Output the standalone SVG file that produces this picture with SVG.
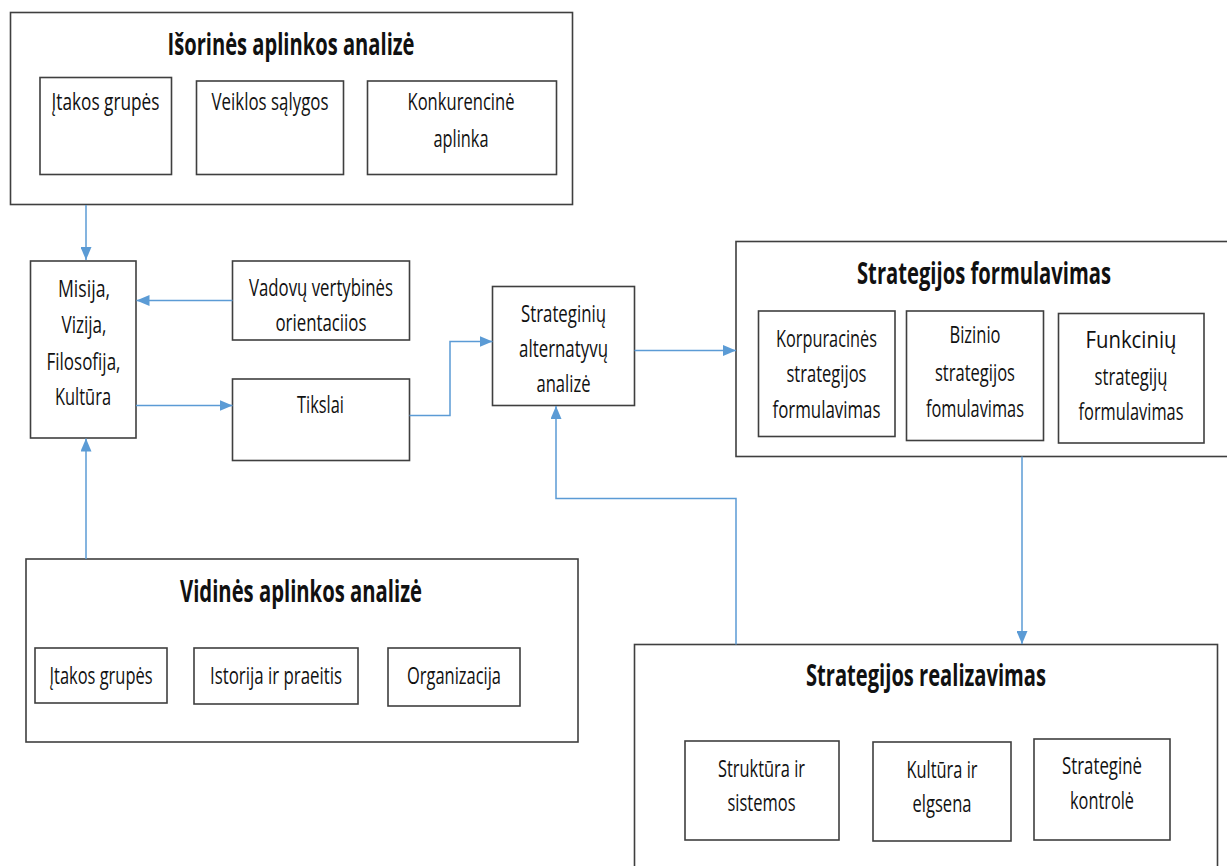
<svg xmlns="http://www.w3.org/2000/svg" width="1227" height="866" viewBox="0 0 1227 866">
  <style>
    .box { fill: #ffffff; stroke: #3f3f3f; stroke-width: 1.6; }
    .t { font-family: "Open Sans", "Noto Sans", "Liberation Sans", sans-serif; font-size: 23.5px; fill: #111111; text-anchor: middle; }
    .h { font-family: "Open Sans", "Noto Sans", "Liberation Sans", sans-serif; font-size: 30px; font-weight: bold; fill: #111111; text-anchor: middle; }
    .link { fill: none; stroke: #5b9bd5; stroke-width: 1.5; }
  </style>
  <defs>
    <marker id="arrow" markerUnits="userSpaceOnUse" markerWidth="13" markerHeight="11" refX="13" refY="5.5" orient="auto">
      <path d="M0,0 L13,5.5 L0,11 z" fill="#5b9bd5"/>
    </marker>
  </defs>

  <rect x="0" y="0" width="1227" height="866" fill="#ffffff"/>

  <!-- External environment analysis -->
  <g id="isorine">
    <rect class="box" x="10.5" y="12.5" width="562" height="192"/>
    <text class="h" x="291" y="55" textLength="247" lengthAdjust="spacingAndGlyphs">Išorinės aplinkos analizė</text>
    <g id="isorine-itakos">
      <rect class="box" x="40" y="77.5" width="131.5" height="97"/>
      <text class="t" x="105.5" y="110" textLength="108" lengthAdjust="spacingAndGlyphs">Įtakos grupės</text>
    </g>
    <g id="isorine-veiklos">
      <rect class="box" x="196.5" y="81" width="147" height="93.5"/>
      <text class="t" x="270" y="110" textLength="117" lengthAdjust="spacingAndGlyphs">Veiklos sąlygos</text>
    </g>
    <g id="isorine-konkurencine">
      <rect class="box" x="367.5" y="81" width="189" height="93.5"/>
      <text class="t" x="461" y="110" textLength="107" lengthAdjust="spacingAndGlyphs">Konkurencinė</text>
      <text class="t" x="461" y="147" textLength="55" lengthAdjust="spacingAndGlyphs">aplinka</text>
    </g>
  </g>

  <!-- Mission / vision -->
  <g id="misija">
    <rect class="box" x="30.5" y="261" width="105.5" height="177"/>
    <text class="t" x="84" y="297" textLength="52" lengthAdjust="spacingAndGlyphs">Misija,</text>
    <text class="t" x="84" y="333" textLength="45" lengthAdjust="spacingAndGlyphs">Vizija,</text>
    <text class="t" x="83.5" y="369.5" textLength="74" lengthAdjust="spacingAndGlyphs">Filosofija,</text>
    <text class="t" x="83" y="405" textLength="56" lengthAdjust="spacingAndGlyphs">Kultūra</text>
  </g>

  <g id="vadovu">
    <rect class="box" x="232.5" y="261" width="177" height="79"/>
    <text class="t" x="321" y="295.5" textLength="144" lengthAdjust="spacingAndGlyphs">Vadov&#371; vertybinės</text>
    <text class="t" x="321" y="330.5" textLength="91" lengthAdjust="spacingAndGlyphs">orientaciios</text>
  </g>

  <g id="tikslai">
    <rect class="box" x="232.5" y="379" width="177" height="81.5"/>
    <text class="t" x="320.5" y="412.5" textLength="47" lengthAdjust="spacingAndGlyphs">Tikslai</text>
  </g>

  <g id="alternatyvos">
    <rect class="box" x="492.5" y="286.5" width="142" height="119"/>
    <text class="t" x="563.5" y="322" textLength="85" lengthAdjust="spacingAndGlyphs">Strategini&#371;</text>
    <text class="t" x="563.5" y="357" textLength="89" lengthAdjust="spacingAndGlyphs">alternatyv&#371;</text>
    <text class="t" x="563.5" y="392" textLength="54" lengthAdjust="spacingAndGlyphs">analizė</text>
  </g>

  <!-- Strategy formulation -->
  <g id="formulavimas">
    <rect class="box" x="736" y="241.5" width="510" height="215"/>
    <text class="h" x="984" y="284" textLength="254" lengthAdjust="spacingAndGlyphs">Strategijos formulavimas</text>
    <g id="formulavimas-korporacines">
      <rect class="box" x="758.5" y="311" width="136.5" height="125.5"/>
      <text class="t" x="826.5" y="347" textLength="101" lengthAdjust="spacingAndGlyphs">Korpuracinės</text>
      <text class="t" x="826.5" y="382" textLength="80" lengthAdjust="spacingAndGlyphs">strategijos</text>
      <text class="t" x="826.5" y="418" textLength="108" lengthAdjust="spacingAndGlyphs">formulavimas</text>
    </g>
    <g id="formulavimas-biznio">
      <rect class="box" x="906.5" y="311" width="137" height="129.5"/>
      <text class="t" x="975" y="343" textLength="51" lengthAdjust="spacingAndGlyphs">Bizinio</text>
      <text class="t" x="975" y="380.5" textLength="80" lengthAdjust="spacingAndGlyphs">strategijos</text>
      <text class="t" x="975" y="416.5" textLength="98" lengthAdjust="spacingAndGlyphs">fomulavimas</text>
    </g>
    <g id="formulavimas-funkciniu">
      <rect class="box" x="1058.5" y="313.5" width="145.5" height="129.5"/>
      <text class="t" x="1131" y="348" textLength="91" lengthAdjust="spacingAndGlyphs">Funkcini&#371;</text>
      <text class="t" x="1131" y="385" textLength="73" lengthAdjust="spacingAndGlyphs">strategij&#371;</text>
      <text class="t" x="1131" y="420" textLength="105" lengthAdjust="spacingAndGlyphs">formulavimas</text>
    </g>
  </g>

  <!-- Internal environment analysis -->
  <g id="vidine">
    <rect class="box" x="26" y="559" width="552" height="183"/>
    <text class="h" x="301" y="602" textLength="242" lengthAdjust="spacingAndGlyphs">Vidinės aplinkos analizė</text>
    <g id="vidine-itakos">
      <rect class="box" x="35" y="648" width="132" height="55"/>
      <text class="t" x="101" y="684" textLength="103" lengthAdjust="spacingAndGlyphs">Įtakos grupės</text>
    </g>
    <g id="vidine-istorija">
      <rect class="box" x="194" y="648" width="164" height="56"/>
      <text class="t" x="276" y="684" textLength="132" lengthAdjust="spacingAndGlyphs">Istorija ir praeitis</text>
    </g>
    <g id="vidine-organizacija">
      <rect class="box" x="388" y="648" width="132" height="58"/>
      <text class="t" x="454" y="684" textLength="94" lengthAdjust="spacingAndGlyphs">Organizacija</text>
    </g>
  </g>

  <!-- Strategy implementation -->
  <g id="realizavimas">
    <rect class="box" x="634.5" y="644.5" width="583" height="240"/>
    <text class="h" x="926" y="685.5" textLength="240" lengthAdjust="spacingAndGlyphs">Strategijos realizavimas</text>
    <g id="realizavimas-struktura">
      <rect class="box" x="685" y="741" width="154" height="99"/>
      <text class="t" x="761.5" y="776.5" textLength="87" lengthAdjust="spacingAndGlyphs">Struktūra ir</text>
      <text class="t" x="761.5" y="810.5" textLength="68" lengthAdjust="spacingAndGlyphs">sistemos</text>
    </g>
    <g id="realizavimas-kultura">
      <rect class="box" x="873" y="742" width="138" height="99"/>
      <text class="t" x="942" y="777.5" textLength="71" lengthAdjust="spacingAndGlyphs">Kultūra ir</text>
      <text class="t" x="942" y="811.5" textLength="59" lengthAdjust="spacingAndGlyphs">elgsena</text>
    </g>
    <g id="realizavimas-kontrole">
      <rect class="box" x="1034" y="739" width="136" height="101"/>
      <text class="t" x="1102" y="773.5" textLength="80" lengthAdjust="spacingAndGlyphs">Strateginė</text>
      <text class="t" x="1102" y="808.5" textLength="64" lengthAdjust="spacingAndGlyphs">kontrolė</text>
    </g>
  </g>

  <!-- Connectors -->
  <g id="connectors">
    <path class="link" d="M86,205 L86,260" marker-end="url(#arrow)"/>
    <path class="link" d="M232.5,300.5 L136.5,300.5" marker-end="url(#arrow)"/>
    <path class="link" d="M136,405.5 L232.5,405.5" marker-end="url(#arrow)"/>
    <path class="link" d="M86,559 L86,438.5" marker-end="url(#arrow)"/>
    <path class="link" d="M409.5,415.5 L450,415.5 L450,341.5 L492.5,341.5" marker-end="url(#arrow)"/>
    <path class="link" d="M634.5,350.5 L736,350.5" marker-end="url(#arrow)"/>
    <path class="link" d="M1022,456.5 L1022,644" marker-end="url(#arrow)"/>
    <path class="link" d="M736,644.5 L736,498.5 L556,498.5 L556,406" marker-end="url(#arrow)"/>
  </g>
</svg>
